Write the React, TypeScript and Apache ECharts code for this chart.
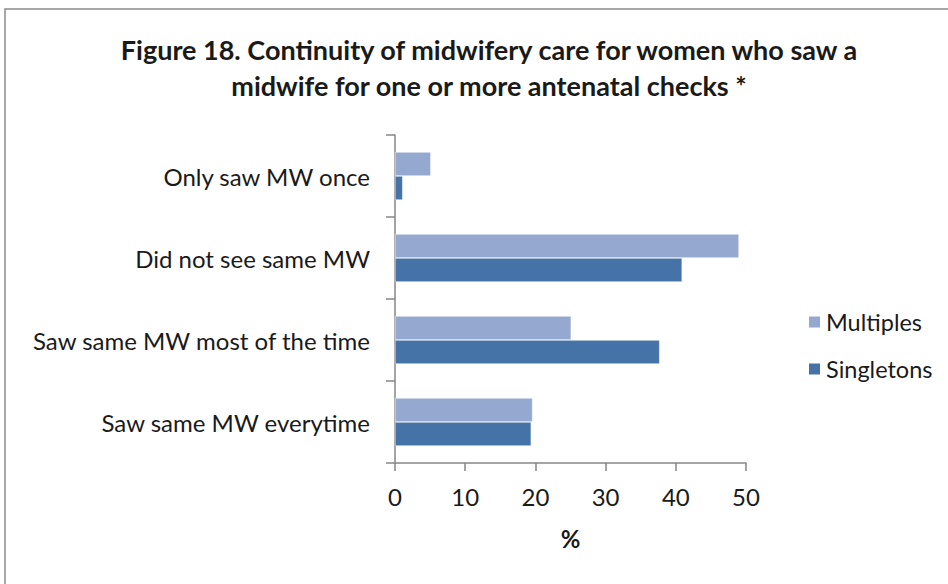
import React, { useEffect, useRef } from "react";
import * as echarts from "echarts";

const categories = [
  "Only saw MW once",
  "Did not see same MW",
  "Saw same MW most of the time",
  "Saw same MW everytime",
];
const multiples = [5.1, 49.0, 25.1, 19.6];
const singletons = [1.1, 40.9, 37.7, 19.4];
const xTicks = [0, 10, 20, 30, 40, 50];

const FONT = "Lato";

export default function App() {
  const ref = useRef<HTMLDivElement>(null);
  useEffect(() => {
    document.body.style.margin = "0";
    const chart = echarts.init(ref.current!, null, { renderer: "svg" });
    chart.setOption({
      animation: false,
      backgroundColor: "#ffffff",
      title: {
        text: "Figure 18. Continuity of midwifery care for women who saw a\nmidwife for one or more antenatal checks *",
        left: 484,
        top: 26,
        textAlign: "center",
        textStyle: {
          fontFamily: FONT,
          fontWeight: "bold",
          fontSize: 27,
          lineHeight: 36,
          color: "#1a1a1a",
        },
      },
      graphic: [
        {
          type: "rect",
          shape: { x: 5, y: 9, width: 1000, height: 700 },
          style: { fill: "none", stroke: "#8a8a8a", lineWidth: 1.5 },
          silent: true,
        },
      ],
      legend: {
        data: ["Multiples", "Singletons"],
        orient: "vertical",
        left: 802,
        top: 305,
        itemWidth: 13,
        itemHeight: 13,
        itemGap: 23,
        icon: "rect",
        textStyle: { fontFamily: FONT, fontSize: 23.5, color: "#1a1a1a" },
      },
      grid: { left: 395, right: 202, top: 135, bottom: 121 },
      xAxis: {
        type: "value",
        min: 0,
        max: 50,
        interval: 10,
        name: "%",
        nameLocation: "middle",
        nameGap: 63,
        nameTextStyle: { fontFamily: FONT, fontSize: 24, fontWeight: "bold", color: "#1a1a1a" },
        axisLine: { show: true, lineStyle: { color: "#868686", width: 1.5 } },
        axisTick: { show: true, length: 8, lineStyle: { color: "#868686", width: 1.5 } },
        splitLine: { show: false },
        axisLabel: {
          fontFamily: FONT,
          fontSize: 24,
          color: "#1a1a1a",
          margin: 21,
          formatter: (v: number) => (xTicks.includes(v) ? String(v) : ""),
        },
      },
      yAxis: {
        type: "category",
        data: categories,
        inverse: true,
        axisLine: { show: true, lineStyle: { color: "#868686", width: 1.5 } },
        axisTick: { show: true, length: 9, lineStyle: { color: "#868686", width: 1.5 } },
        axisLabel: { fontFamily: FONT, fontSize: 24, color: "#1a1a1a", margin: 25 },
      },
      series: [
        {
          name: "Multiples",
          type: "bar",
          data: multiples,
          barGap: "0%",
          barCategoryGap: "41.5%",
          itemStyle: { color: "#95a9d0", borderColor: "#ffffff", borderWidth: 0.5 },
        },
        {
          name: "Singletons",
          type: "bar",
          data: singletons,
          barGap: "0%",
          barCategoryGap: "41.5%",
          itemStyle: { color: "#4573a7", borderColor: "#ffffff", borderWidth: 0.5 },
        },
      ],
    });
    return () => chart.dispose();
  }, []);
  return <div ref={ref} style={{ width: 948, height: 584 }} />;
}
